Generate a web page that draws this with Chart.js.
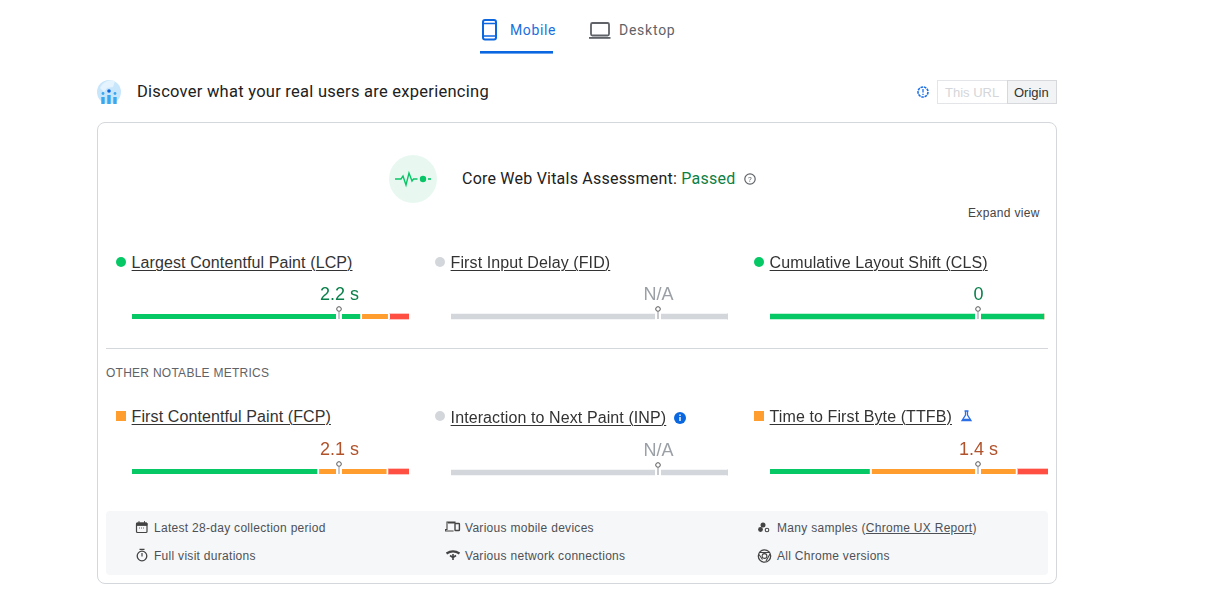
<!DOCTYPE html>
<html>
<head>
<meta charset="utf-8">
<title>Core Web Vitals</title>
<script src="https://cdn.jsdelivr.net/npm/chart.js@4"></script>
<style>
  html, body { margin: 0; padding: 0; background: #fff; overflow: hidden; }
  body { width: 1207px; height: 605px; position: relative; font-family: "Liberation Sans", Arial, sans-serif; }
  .t { position: absolute; white-space: nowrap; line-height: 20px; }
  .gs { font-family: Roboto, sans-serif; }
  .foot { font-size: 12px; color: #4d5156; letter-spacing: .29px; }
  .metric { font-size: 16px; color: #333; letter-spacing: .1px; text-decoration: underline; text-underline-offset: 2px; text-decoration-thickness: 1px; }
  .val { font-size: 18px; transform: translateX(-50%); }
  canvas { position: absolute; }
  .box { position: absolute; box-sizing: border-box; }
</style>
</head>
<body>

<svg width="1207" height="605" style="position:absolute;left:0;top:0;z-index:2">
  <!-- tabs -->
  <rect x="483" y="20" width="13" height="19.5" rx="2" fill="none" stroke="#0b67e0" stroke-width="2"/>
  <path d="M483 23.5h13M483 36h13" stroke="#0b67e0" stroke-width="1.6"/>
  <rect x="480" y="51" width="73" height="2.6" fill="#0b67e0"/>
  <rect x="591" y="23" width="18" height="12.5" rx="1.5" fill="none" stroke="#5f6368" stroke-width="1.8"/>
  <rect x="589" y="37" width="21.5" height="1.8" fill="#5f6368"/>
  <!-- field data avatar -->
  <circle cx="109" cy="92" r="12" fill="#c8e6fb"/>
  <path d="M100 88a12 12 0 0 1 15-7l-2 6-6 1-3 4z" fill="#e4f3fd"/>
  <circle cx="109" cy="91" r="1.8" fill="#0b67e0"/>
  <path d="M103 97v7M109 95v9M115 97v7" stroke="#3aa8ef" stroke-width="3.4"/>
  <circle cx="103" cy="93.5" r="1.4" fill="#3aa8ef"/>
  <circle cx="115" cy="93.5" r="1.4" fill="#3aa8ef"/>
  <!-- info near toggle -->
  <circle cx="923" cy="92" r="5" fill="none" stroke="#1a6fe8" stroke-width="1.6" stroke-dasharray="2.6 .8"/>
  <path d="M923 89v3.4M923 93.8v1.2" stroke="#1a6fe8" stroke-width="1.3"/>
  <!-- assessment -->
  <circle cx="413" cy="179" r="24" fill="#e8f8f1"/>
  <path d="M395 179h6l2-3 3 9 3-12 3 8 1.5-2h4" fill="none" stroke="#07c566" stroke-width="1.4"/>
  <circle cx="423" cy="179" r="3.2" fill="#07c566"/>
  <path d="M428 179h3" stroke="#07c566" stroke-width="1.6"/>
  <circle cx="750" cy="179" r="5.2" fill="none" stroke="#5f6368" stroke-width="1.2"/>
  <text x="750" y="182" font-size="8" font-family="Roboto" fill="#5f6368" text-anchor="middle">?</text>
  <!-- inp info -->
  <circle cx="680" cy="418" r="6" fill="#0b67e0"/>
  <path d="M680 417v4M680 414.6v1.4" stroke="#fff" stroke-width="1.4"/>
  <!-- flask -->
  <path d="M964.5 411h4M965.5 411v4l-3.5 5.5h9l-3.5-5.5v-4" fill="none" stroke="#2b6fe6" stroke-width="1.3"/>
  <path d="M963 419.5h7.5" stroke="#2b6fe6" stroke-width="1.6"/>
  <!-- footer icons -->
  <rect x="136.5" y="523" width="10.5" height="9.5" rx="1" fill="none" stroke="#444" stroke-width="1.2"/>
  <path d="M136.5 523h10.5v2.4h-10.5zM139 521v2M144.5 521v2" fill="#444" stroke="#444" stroke-width=".9"/>
  <path d="M139 528h5.5" stroke="#666" stroke-width="1" stroke-dasharray="1 1"/>
  <circle cx="142" cy="556" r="4.8" fill="none" stroke="#444" stroke-width="1.3"/>
  <path d="M139.5 549.4h5M142 553v3.4" stroke="#444" stroke-width="1.2"/>
  <path d="M448 523h7v-1h-8v7.5h-1.4v1.5h8" fill="none" stroke="#444" stroke-width="1.1"/>
  <rect x="455" y="523.5" width="4.4" height="7" rx=".6" fill="none" stroke="#444" stroke-width="1.4"/>
  <path d="M446.5 553.5q6.5-4.4 13 0" fill="none" stroke="#444" stroke-width="2.2"/>
  <path d="M453 554v6M450 555.5l3 2 3-2" fill="none" stroke="#444" stroke-width="1.6"/>
  <circle cx="763" cy="525" r="2.5" fill="#444"/>
  <circle cx="760.5" cy="529.5" r="2.4" fill="#444"/>
  <circle cx="767" cy="530" r="1.8" fill="none" stroke="#444" stroke-width="1.1"/>
  <circle cx="764.5" cy="556" r="6.2" fill="none" stroke="#444" stroke-width="1.3"/>
  <circle cx="764.5" cy="556" r="2.4" fill="none" stroke="#444" stroke-width="1.1"/>
  <path d="M759.5 552.5h10.5M759 554.5l3.5 5M770 554l-4 7" fill="none" stroke="#444" stroke-width="1.1"/>
</svg>

<div class="t gs" style="left:510px;top:20px;font-size:14px;color:#1a6fe0;letter-spacing:.62px">Mobile</div>
<div class="t gs" style="left:619px;top:20px;font-size:14px;color:#5f6368;letter-spacing:.75px">Desktop</div>

<div class="t gs" style="left:137px;top:82px;font-size:16.5px;color:#212121;letter-spacing:.26px">Discover what your real users are experiencing</div>

<div class="box" style="left:937px;top:80px;width:71px;height:24px;border:1.5px solid #e3e5e8"></div>
<div class="t" style="left:945px;top:83px;font-size:13px;color:#d4d6d9">This URL</div>
<div class="box" style="left:1007px;top:80px;width:50px;height:24px;border:1.5px solid #d6d8db;background:#f1f3f4"></div>
<div class="t" style="left:1014px;top:83px;font-size:13px;color:#333">Origin</div>

<div class="box" style="left:97px;top:122px;width:960px;height:462px;border:1px solid #d4d7db;border-radius:8px"></div>

<div class="t gs" style="left:462px;top:169px;font-size:16px;color:#212121;letter-spacing:.22px">Core Web Vitals Assessment: <span style="color:#0d8043">Passed</span></div>
<div class="t" style="left:968px;top:203px;font-size:12px;color:#444;letter-spacing:.35px">Expand view</div>

<div class="box" style="left:106px;top:348px;width:942px;height:1px;background:#d4d7db"></div>
<div class="t" style="left:106px;top:363px;font-size:12px;color:#5f6368;letter-spacing:.26px">OTHER NOTABLE METRICS</div>

<div class="box" style="left:106px;top:511px;width:942px;height:64px;background:#f6f7f9;border-radius:4px"></div>
<div class="t foot" style="left:154px;top:518px">Latest 28-day collection period</div>
<div class="t foot" style="left:154px;top:546px">Full visit durations</div>
<div class="t foot" style="left:465px;top:518px">Various mobile devices</div>
<div class="t foot" style="left:465px;top:546px">Various network connections</div>
<div class="t foot" style="left:777px;top:518px">Many samples (<u>Chrome UX Report</u>)</div>
<div class="t foot" style="left:777px;top:546px">All Chrome versions</div>

<script>
// Values (share of real users, percent)
const metricNames = ['Largest Contentful Paint (LCP)', 'First Input Delay (FID)', 'Cumulative Layout Shift (CLS)',
  'First Contentful Paint (FCP)', 'Interaction to Next Paint (INP)', 'Time to First Byte (TTFB)'];
const metricValues = ['2.2 s', 'N/A', '0', '2.1 s', 'N/A', '1.4 s'];
const metricStatus = ['good', 'none', 'good', 'average', 'none', 'average'];
const goodShare = [83, 100, 98.5, 67.5, 100, 36.5];
const needsShare = [10, 0, 0, 25, 0, 52.5];
const poorShare = [7, 0, 0, 7.5, 0, 11];
const p75Position = 75;

// Where each metric block sits on the page
const blockLeft = [132, 451, 770, 132, 451, 770];
const blockWidth = [277, 277, 278, 277, 277, 278];
const barTop = [314, 314, 314, 469, 470, 469];
const labelTop = [253, 253, 253, 407, 408, 407];
const badgeTop = [257, 257, 257, 411, 411, 411];
const valueTop = [284, 284, 284, 439, 440, 439];

const GREEN = '#06c966';
const ORANGE = '#ff9d2e';
const RED = '#ff4e42';
const GREY = '#d3d7db';
const statusColor = { good: '#0a7f4a', average: '#b0522b', none: '#9aa0a6' };

// p75 pin: white notch in the bar, thin stem and small circle on top
const markerPlugin = {
  id: 'marker',
  afterDatasetsDraw(chart) {
    const c = chart.ctx;
    const bar = chart.getDatasetMeta(0).data[0];
    const x = Math.floor(chart.scales.x.getPixelForValue(p75Position)) - 0.5;
    const top = bar.y - 2.5;
    c.save();
    c.fillStyle = '#fff';
    c.fillRect(x - 2.5, top - 1, 6, 7);
    c.fillStyle = '#c6cacf';
    c.fillRect(x - 0.5, top - 2, 2, 7);
    c.beginPath();
    c.arc(x + 0.5, top - 5, 2.3, 0, Math.PI * 2);
    c.fillStyle = '#fff';
    c.fill();
    c.lineWidth = 1;
    c.strokeStyle = '#555';
    c.stroke();
    c.restore();
  }
};

function addText(cls, left, top, text, color) {
  const el = document.createElement('div');
  el.className = 't ' + cls;
  el.style.left = left + 'px';
  el.style.top = top + 'px';
  el.style.color = color;
  el.textContent = text;
  document.body.appendChild(el);
}

function addBadge(status, left, top) {
  const el = document.createElement('div');
  el.className = 'box';
  el.style.cssText += `left:${left}px;top:${top}px;width:10px;height:10px;`;
  el.style.background = status === 'good' ? GREEN : status === 'average' ? ORANGE : GREY;
  el.style.borderRadius = status === 'average' ? '0' : '50%';
  document.body.appendChild(el);
}

metricNames.forEach((name, i) => {
  addBadge(metricStatus[i], blockLeft[i] - 16, badgeTop[i]);
  addText('metric', blockLeft[i] - 0.4, labelTop[i], name, '#333');

  const canvas = document.createElement('canvas');
  canvas.width = blockWidth[i];
  canvas.height = 27;
  canvas.style.left = blockLeft[i] + 'px';
  canvas.style.top = (barTop[i] - 13) + 'px';
  document.body.appendChild(canvas);

  const none = metricStatus[i] === 'none';
  const chart = new Chart(canvas, {
    type: 'bar',
    data: {
      labels: [name],
      datasets: [
        { data: [goodShare[i]], backgroundColor: none ? GREY : GREEN },
        { data: [needsShare[i]], backgroundColor: ORANGE },
        { data: [poorShare[i]], backgroundColor: RED }
      ].map((d, k) => Object.assign(d, {
        barThickness: 5,
        borderColor: '#fff',
        borderSkipped: false,
        borderWidth: { top: 0, bottom: 0, left: 0, right: k < 2 && d.data[0] < 90 ? 2 : 0 }
      }))
    },
    options: {
      indexAxis: 'y',
      responsive: false,
      animation: false,
      layout: { padding: { top: 10, bottom: 6 } },
      plugins: { legend: { display: false }, tooltip: { enabled: false } },
      scales: {
        x: { stacked: true, min: 0, max: 100, display: false },
        y: { stacked: true, display: false }
      }
    },
    plugins: [markerPlugin]
  });

  const mid = blockLeft[i] + chart.scales.x.getPixelForValue(p75Position);
  addText('val', Math.floor(mid) + 0.5, valueTop[i], metricValues[i], statusColor[metricStatus[i]]);
});
</script>
</body>
</html>
